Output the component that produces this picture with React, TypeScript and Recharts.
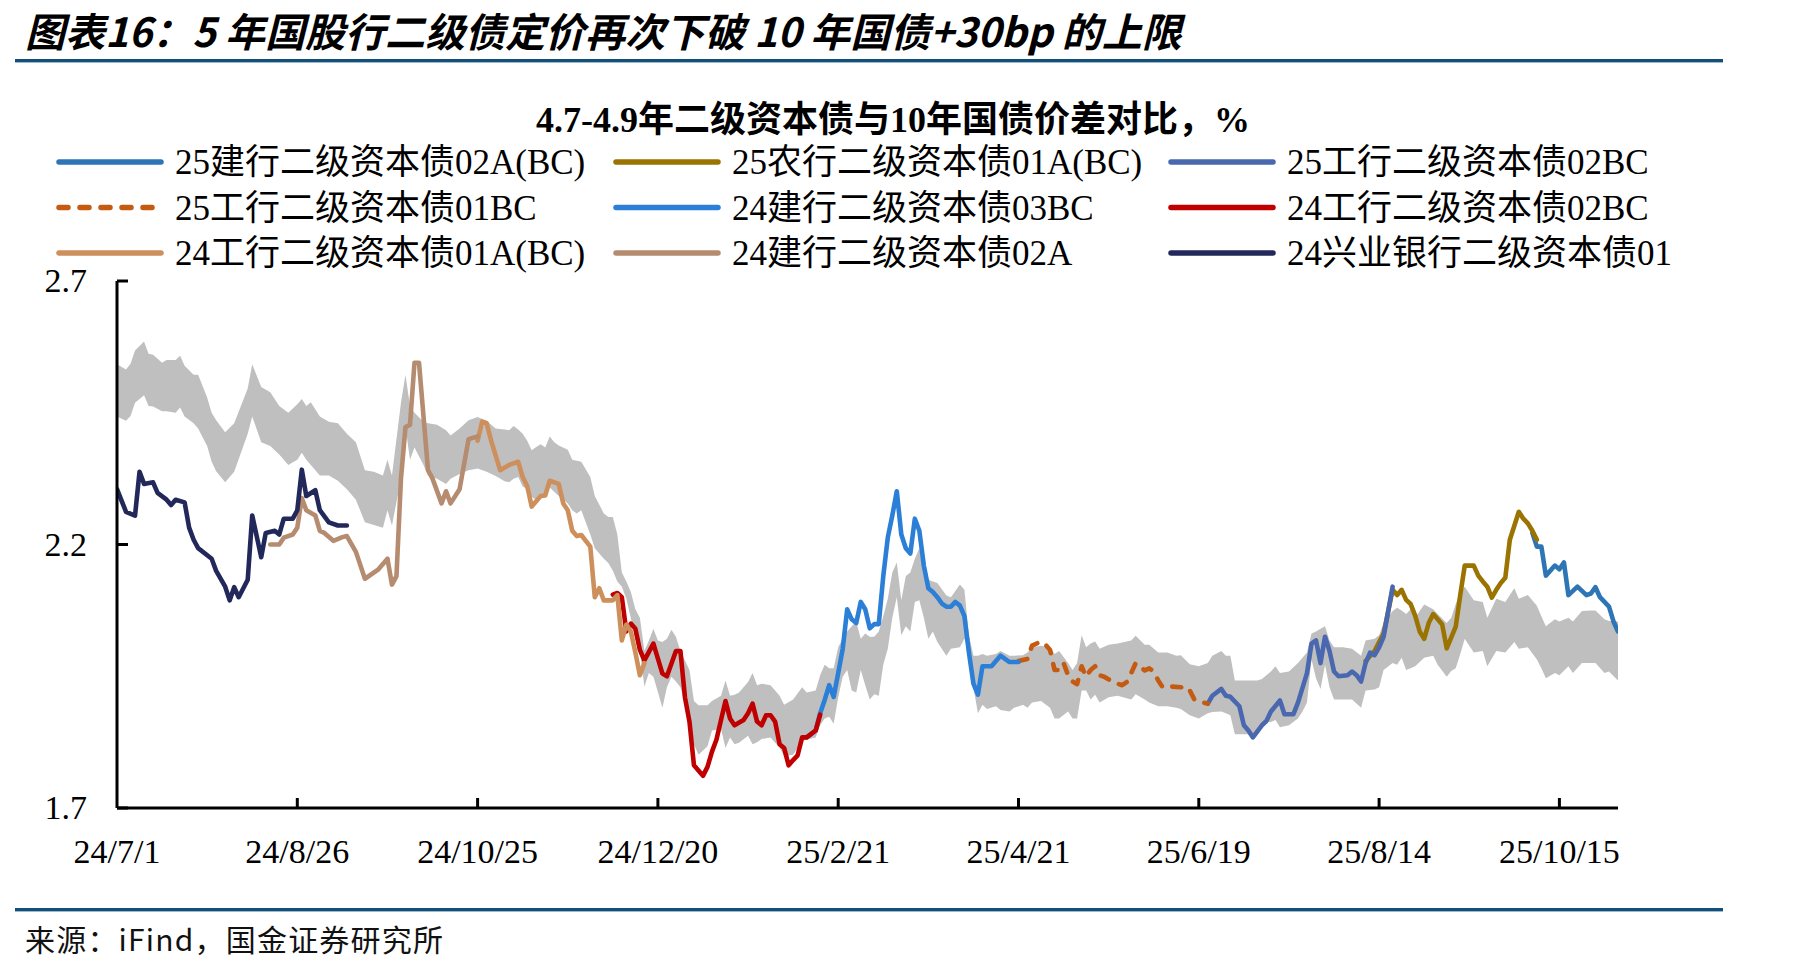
import React from 'react';
import { ComposedChart, Line, Area, XAxis, YAxis } from 'recharts';

// ---------- data ----------
const tickIndex = [0, 40, 80, 120, 160, 200, 240, 280, 320];
const tickLabels = ['24/7/1', '24/8/26', '24/10/25', '24/12/20', '25/2/21', '25/4/21', '25/6/19', '25/8/14', '25/10/15'];
const yTicks = [1.7, 2.2, 2.7];

// gray band: [trading-day index, low, high]
const bandRows: [number, number, number][] = [
  [0, 2.443, 2.542], [2, 2.435, 2.532], [3, 2.444, 2.543], [4, 2.469, 2.568], [6, 2.483, 2.585], [7, 2.463, 2.562],
  [8, 2.462, 2.56], [10, 2.453, 2.545], [11, 2.453, 2.55], [13, 2.45, 2.55], [14, 2.46, 2.558], [15, 2.443, 2.539],
  [17, 2.43, 2.522], [18, 2.42, 2.522], [20, 2.387, 2.479], [21, 2.357, 2.45], [22, 2.339, 2.436], [24, 2.318, 2.413],
  [26, 2.338, 2.43], [29, 2.41, 2.496], [30, 2.443, 2.542], [32, 2.394, 2.499], [34, 2.387, 2.489], [36, 2.371, 2.463],
  [38, 2.351, 2.45], [40, 2.361, 2.466], [41, 2.374, 2.476], [42, 2.361, 2.463], [43, 2.351, 2.47], [45, 2.331, 2.443],
  [47, 2.331, 2.433], [49, 2.321, 2.43], [51, 2.305, 2.41], [53, 2.285, 2.394], [55, 2.242, 2.341], [57, 2.237, 2.338],
  [59, 2.232, 2.331], [60, 2.265, 2.361], [61, 2.236, 2.331], [63, 2.325, 2.469], [64, 2.423, 2.522], [65, 2.361, 2.463],
  [66, 2.384, 2.45], [68, 2.351, 2.433], [69, 2.331, 2.43], [71, 2.325, 2.427], [73, 2.315, 2.417], [74, 2.325, 2.407],
  [76, 2.334, 2.42], [78, 2.341, 2.436], [80, 2.344, 2.442], [82, 2.338, 2.435], [84, 2.33, 2.42], [86, 2.32, 2.418],
  [87, 2.318, 2.417], [88, 2.325, 2.425], [89, 2.328, 2.418], [90, 2.31, 2.41], [91, 2.305, 2.397], [92, 2.29, 2.379],
  [93, 2.285, 2.385], [94, 2.29, 2.39], [95, 2.295, 2.384], [96, 2.308, 2.405], [97, 2.3, 2.394], [98, 2.292, 2.388],
  [100, 2.278, 2.38], [101, 2.265, 2.361], [102, 2.259, 2.359], [103, 2.265, 2.357], [105, 2.219, 2.328], [106, 2.193, 2.292],
  [108, 2.173, 2.259], [109, 2.165, 2.252], [110, 2.15, 2.252], [111, 2.13, 2.219], [112, 2.12, 2.147], [113, 2.097, 2.13],
  [114, 2.06, 2.11], [115, 2.02, 2.077], [116, 2.0, 2.061], [117, 1.93, 1.998], [118, 1.956, 2.018], [119, 1.949, 2.04],
  [120, 1.92, 2.018], [121, 1.89, 2.015], [122, 1.929, 2.021], [123, 1.949, 2.038], [124, 1.94, 2.025], [125, 1.929, 1.998],
  [127, 1.87, 1.962], [128, 1.821, 1.903], [129, 1.801, 1.895], [131, 1.817, 1.895], [132, 1.847, 1.903], [134, 1.85, 1.913],
  [135, 1.814, 1.942], [136, 1.834, 1.913], [137, 1.821, 1.915], [138, 1.824, 1.919], [140, 1.837, 1.939], [141, 1.821, 1.956],
  [142, 1.825, 1.933], [143, 1.831, 1.936], [145, 1.834, 1.933], [146, 1.824, 1.923], [147, 1.815, 1.913], [148, 1.798, 1.896],
  [150, 1.801, 1.906], [152, 1.827, 1.929], [153, 1.83, 1.919], [155, 1.834, 1.923], [156, 1.857, 1.952], [157, 1.87, 1.972],
  [158, 1.873, 1.965], [159, 1.86, 1.965], [160, 1.91, 2.005], [161, 1.949, 2.021], [162, 1.962, 2.035], [163, 1.923, 2.045],
  [164, 1.919, 2.054], [165, 1.962, 2.021], [166, 1.933, 2.031], [167, 1.906, 2.025], [168, 1.916, 2.025], [169, 1.913, 2.035],
  [170, 1.972, 2.064], [171, 2.002, 2.097], [172, 2.061, 2.147], [173, 2.1, 2.166], [174, 2.028, 2.094], [175, 2.045, 2.14],
  [176, 2.035, 2.147], [177, 2.091, 2.173], [178, 2.094, 2.193], [179, 2.061, 2.143], [180, 2.021, 2.133], [181, 2.035, 2.13],
  [182, 2.015, 2.127], [184, 1.989, 2.103], [185, 2.002, 2.1], [187, 2.005, 2.124], [188, 2.021, 2.114], [189, 1.995, 2.028],
  [190, 1.929, 1.989], [191, 1.88, 1.989], [192, 1.896, 1.992], [193, 1.888, 1.989], [195, 1.893, 1.992], [196, 1.886, 1.998],
  [198, 1.883, 1.989], [199, 1.89, 1.989], [201, 1.896, 1.99], [202, 1.89, 1.995], [203, 1.9, 2.005], [205, 1.903, 2.008],
  [207, 1.89, 2.005], [208, 1.87, 1.992], [209, 1.87, 1.998], [211, 1.883, 1.975], [212, 1.87, 1.962], [213, 1.87, 1.975],
  [214, 1.923, 2.028], [215, 1.923, 2.005], [216, 1.906, 2.012], [217, 1.915, 2.016], [218, 1.9, 2.002], [220, 1.91, 2.01],
  [222, 1.913, 2.012], [225, 1.906, 2.018], [226, 1.916, 2.027], [228, 1.906, 2.01], [229, 1.9, 2.01], [231, 1.893, 1.995],
  [233, 1.893, 1.995], [235, 1.89, 1.989], [236, 1.888, 1.99], [238, 1.876, 1.973], [240, 1.87, 1.969], [242, 1.88, 1.975],
  [243, 1.882, 1.989], [245, 1.883, 1.998], [246, 1.88, 1.989], [247, 1.876, 1.989], [248, 1.84, 1.942], [251, 1.84, 1.942],
  [253, 1.84, 1.942], [254, 1.863, 1.945], [256, 1.863, 1.959], [257, 1.867, 1.969], [258, 1.853, 1.956], [260, 1.857, 1.959],
  [262, 1.87, 1.975], [263, 1.883, 1.985], [264, 1.9, 1.995], [265, 1.982, 2.031], [266, 1.946, 2.035], [267, 1.926, 2.04],
  [268, 1.972, 2.045], [269, 1.929, 2.018], [270, 1.906, 2.005], [272, 1.906, 2.005], [274, 1.906, 2.002], [276, 1.89, 1.989],
  [277, 1.923, 2.018], [279, 1.925, 2.021], [280, 1.929, 2.028], [281, 1.962, 2.051], [283, 1.975, 2.074], [284, 1.972, 2.08],
  [285, 1.985, 2.075], [286, 1.962, 2.068], [287, 1.965, 2.077], [288, 1.969, 2.061], [290, 1.985, 2.086], [292, 1.989, 2.077],
  [293, 1.972, 2.068], [295, 1.949, 2.051], [296, 1.96, 2.061], [297, 1.965, 2.087], [298, 1.992, 2.11], [299, 2.021, 2.12],
  [301, 1.995, 2.094], [303, 1.998, 2.091], [304, 1.969, 2.061], [306, 1.998, 2.097], [308, 1.995, 2.091], [310, 2.015, 2.117],
  [311, 2.002, 2.097], [313, 2.005, 2.104], [315, 1.982, 2.084], [316, 1.965, 2.064], [317, 1.946, 2.045], [319, 1.956, 2.058],
  [320, 1.952, 2.054], [322, 1.969, 2.061], [323, 1.956, 2.054], [325, 1.975, 2.074], [327, 1.975, 2.075], [328, 1.975, 2.075],
  [330, 1.956, 2.058], [331, 1.959, 2.055], [333, 1.942, 2.054],
];

// series: [trading-day index, value]
const s25jh02a: [number, number][] = [
  [314, 2.222], [315, 2.196], [316, 2.196], [317, 2.141], [319, 2.16], [320, 2.153], [321, 2.166], [322, 2.104],
  [324, 2.12], [326, 2.104], [327, 2.107], [328, 2.119], [329, 2.1], [331, 2.082], [332, 2.054], [333, 2.035],
];
const s25nh01a: [number, number][] = [
  [277, 1.979], [279, 1.998], [280, 2.015], [281, 2.031], [283, 2.114], [284, 2.104], [285, 2.114], [286, 2.095],
  [287, 2.087], [288, 2.065], [289, 2.035], [290, 2.021], [291, 2.051], [292, 2.068], [293, 2.058], [294, 2.048],
  [295, 2.003], [297, 2.044], [298, 2.104], [299, 2.16], [301, 2.16], [302, 2.141], [303, 2.13], [304, 2.12],
  [305, 2.099], [306, 2.114], [307, 2.127], [308, 2.137], [309, 2.209], [311, 2.262], [312, 2.249], [313, 2.24],
  [314, 2.226], [315, 2.209],
];
const s25gh02: [number, number][] = [
  [242, 1.898], [243, 1.913], [245, 1.926], [246, 1.913], [247, 1.911], [249, 1.893], [250, 1.857], [251, 1.847],
  [252, 1.834], [254, 1.857], [255, 1.865], [256, 1.883], [258, 1.904], [259, 1.878], [261, 1.878], [262, 1.9],
  [264, 1.956], [265, 2.012], [266, 2.018], [267, 1.975], [268, 2.025], [269, 1.998], [270, 1.959], [271, 1.95],
  [273, 1.952], [274, 1.959], [275, 1.952], [276, 1.94], [277, 1.975], [278, 1.995], [279, 1.99], [280, 2.005],
  [281, 2.025], [283, 2.12],
];
const s25gh01: [number, number][] = [
  [200, 1.979], [202, 1.983], [203, 2.008], [205, 2.016], [206, 2.01], [207, 2.0], [208, 1.962], [209, 1.962],
  [210, 1.975], [211, 1.952], [212, 1.94], [213, 1.935], [214, 1.969], [215, 1.949], [216, 1.962], [217, 1.969],
  [218, 1.952], [219, 1.949], [221, 1.939], [223, 1.933], [224, 1.939], [225, 1.956], [226, 1.975], [228, 1.961],
  [229, 1.965], [230, 1.959], [231, 1.942], [232, 1.929], [233, 1.931], [236, 1.929], [237, 1.931], [238, 1.923],
  [239, 1.906], [241, 1.9], [242, 1.898],
];
const s24jh03: [number, number][] = [
  [153, 1.834], [155, 1.847], [156, 1.88], [157, 1.905], [158, 1.933], [159, 1.911], [160, 1.956], [161, 2.002],
  [162, 2.077], [163, 2.058], [164, 2.051], [165, 2.091], [166, 2.077], [167, 2.041], [168, 2.049], [169, 2.049],
  [170, 2.14], [171, 2.213], [172, 2.255], [173, 2.301], [174, 2.219], [175, 2.193], [176, 2.183], [177, 2.249],
  [178, 2.226], [179, 2.16], [180, 2.117], [181, 2.11], [182, 2.1], [183, 2.088], [184, 2.082], [185, 2.082],
  [186, 2.091], [187, 2.084], [188, 2.064], [189, 1.995], [190, 1.936], [191, 1.915], [192, 1.969], [194, 1.969],
  [196, 1.989], [198, 1.977], [200, 1.977],
];
const s24gh02: [number, number][] = [
  [110, 2.105], [111, 2.108], [112, 2.1], [113, 2.035], [114, 2.05], [115, 2.04], [116, 2.0], [117, 1.98],
  [119, 2.012], [121, 1.955], [122, 1.95], [124, 1.998], [125, 1.998], [126, 1.91], [127, 1.864], [128, 1.781],
  [130, 1.761], [131, 1.778], [132, 1.807], [133, 1.83], [134, 1.867], [135, 1.903], [136, 1.87], [137, 1.857],
  [139, 1.867], [140, 1.88], [141, 1.898], [142, 1.864], [143, 1.857], [144, 1.876], [145, 1.876], [146, 1.864],
  [147, 1.821], [148, 1.814], [149, 1.781], [150, 1.791], [151, 1.8], [152, 1.834], [153, 1.834], [155, 1.847],
  [156, 1.877],
];
const s24gh01a: [number, number][] = [
  [80, 2.397], [81, 2.433], [82, 2.43], [83, 2.397], [85, 2.341], [87, 2.351], [89, 2.357], [90, 2.328],
  [91, 2.311], [92, 2.272], [94, 2.292], [95, 2.293], [96, 2.321], [98, 2.315], [99, 2.278], [100, 2.265],
  [101, 2.226], [102, 2.216], [103, 2.218], [105, 2.196], [106, 2.1], [107, 2.117], [108, 2.094], [110, 2.094],
  [111, 2.104], [112, 2.018], [113, 2.048], [114, 2.035], [115, 1.995], [116, 1.952], [117, 1.975],
];
const s24jh02a: [number, number][] = [
  [34, 2.2], [36, 2.2], [37, 2.213], [39, 2.219], [40, 2.232], [41, 2.288], [42, 2.265], [44, 2.255],
  [45, 2.226], [46, 2.222], [48, 2.207], [50, 2.214], [51, 2.216], [53, 2.186], [55, 2.135], [58, 2.153],
  [60, 2.173], [61, 2.124], [62, 2.14], [63, 2.325], [64, 2.423], [65, 2.427], [66, 2.545], [67, 2.545],
  [68, 2.443], [69, 2.341], [70, 2.325], [72, 2.278], [73, 2.301], [74, 2.278], [76, 2.305], [78, 2.4], [80, 2.405],
];
const s24xy01: [number, number][] = [
  [0, 2.305], [2, 2.262], [4, 2.255], [5, 2.338], [6, 2.315], [8, 2.318], [9, 2.298], [11, 2.285],
  [12, 2.275], [13, 2.285], [15, 2.28], [16, 2.232], [17, 2.209], [18, 2.193], [21, 2.173], [22, 2.15],
  [24, 2.12], [25, 2.094], [26, 2.119], [27, 2.1], [29, 2.133], [30, 2.255], [32, 2.176], [33, 2.222],
  [35, 2.226], [36, 2.219], [37, 2.249], [39, 2.249], [40, 2.265], [41, 2.342], [42, 2.292], [44, 2.303],
  [45, 2.265], [47, 2.242], [49, 2.236], [51, 2.236],
];

const seriesList = [
  { name: '25建行二级资本债02A(BC)', color: '#2E75B6', rows: s25jh02a, dash: false },
  { name: '25农行二级资本债01A(BC)', color: '#9A7300', rows: s25nh01a, dash: false },
  { name: '25工行二级资本债02BC', color: '#4A68AF', rows: s25gh02, dash: false },
  { name: '25工行二级资本债01BC', color: '#C55A11', rows: s25gh01, dash: true },
  { name: '24建行二级资本债03BC', color: '#2B7FD7', rows: s24jh03, dash: false },
  { name: '24工行二级资本债02BC', color: '#C00000', rows: s24gh02, dash: false },
  { name: '24工行二级资本债01A(BC)', color: '#CD8F5B', rows: s24gh01a, dash: false },
  { name: '24建行二级资本债02A', color: '#B58C70', rows: s24jh02a, dash: false },
  { name: '24兴业银行二级资本债01', color: '#23285A', rows: s24xy01, dash: false },
];

const bandData = bandRows.map(([i, lo, hi]) => ({ i, range: [lo, hi] }));

const SERIF = "'Liberation Serif', 'Times New Roman', 'Noto Sans CJK SC', serif";

const XTick = (props: any) => {
  const { x, y, payload } = props;
  const k = tickIndex.indexOf(payload.value);
  return (
    <g>
      {payload.value !== 0 && <line x1={x} x2={x} y1={y} y2={y - 10} stroke="#000" strokeWidth={3} />}
      <text x={x} y={y + 55} textAnchor="middle" fontFamily={SERIF} fontSize={34} fill="#000">
        {tickLabels[k]}
      </text>
    </g>
  );
};

const YTick = (props: any) => {
  const { x, y, payload } = props;
  return (
    <g>
      <line x1={x} x2={x + 11} y1={y} y2={y} stroke="#000" strokeWidth={3} />
      <text x={x - 30} y={y + 11} textAnchor="end" fontFamily={SERIF} fontSize={34} fill="#000">
        {Number(payload.value).toFixed(1)}
      </text>
    </g>
  );
};

const legendCols = [56, 613, 1168];
const legendRows = [162, 207.5, 253];

export default function App() {
  return (
    <div style={{ position: 'absolute', left: 0, top: 0, width: 1811, height: 972, background: '#fff', overflow: 'hidden' }}>
      <svg width={1811} height={972} style={{ position: 'absolute', left: 0, top: 0 }}>
        <text x={25} y={47} fontFamily="'Noto Sans CJK SC', sans-serif" fontWeight={700} fontStyle="italic" fontSize={40} fill="#000">
          图表16：5 年国股行二级债定价再次下破 10 年国债+30bp 的上限
        </text>
        <rect x={15} y={59} width={1708} height={3} fill="#12507A" />
        <rect x={15} y={62} width={1708} height={1} fill="#9DB9CD" />
        <text x={893} y={132} textAnchor="middle" fontFamily={SERIF} fontWeight={700} fontSize={36} fill="#000">
          4.7-4.9年二级资本债与10年国债价差对比，%
        </text>
        {seriesList.map((s, k) => {
          const col = k % 3;
          const row = Math.floor(k / 3);
          const lx = legendCols[col];
          const ly = legendRows[row];
          return (
            <g key={s.name}>
              <line x1={lx + 3} x2={lx + 105} y1={ly} y2={ly} stroke={s.color} strokeWidth={5.5}
                strokeLinecap="round" strokeDasharray={s.dash ? '9 12' : undefined} />
              <text x={lx + 119} y={ly + 12} fontFamily={SERIF} fontSize={35} fill="#000">{s.name}</text>
            </g>
          );
        })}
        <rect x={15} y={908} width={1708} height={3} fill="#12507A" />
        <rect x={15} y={911} width={1708} height={1} fill="#9DB9CD" />
        <text x={25} y={951} fontFamily="'Noto Sans CJK SC', sans-serif" fontSize={30} letterSpacing={1.2} fill="#111">
          来源：iFind，国金证券研究所
        </text>
      </svg>
      <div style={{ position: 'absolute', left: 0, top: 0 }}>
        <ComposedChart width={1811} height={972} margin={{ top: 281, right: 193, bottom: 104, left: 57 }}>
          <XAxis type="number" dataKey="i" domain={[0, 333]} ticks={tickIndex} interval={0} height={60}
            axisLine={{ stroke: '#000', strokeWidth: 3 }} tickLine={false} tickSize={0} tickMargin={0}
            tick={<XTick />} allowDataOverflow />
          <YAxis type="number" domain={[1.7, 2.7]} ticks={yTicks} interval={0} width={60}
            axisLine={{ stroke: '#000', strokeWidth: 3 }} tickLine={false} tickSize={0} tickMargin={0}
            tick={<YTick />} allowDataOverflow />
          <Area data={bandData} dataKey="range" type="linear" stroke="none" fill="#BFBFBF" fillOpacity={1}
            isAnimationActive={false} dot={false} activeDot={false} />
          {seriesList.map((s) => (
            <Line key={s.name} data={s.rows.map(([i, v]) => ({ i, v }))} dataKey="v" name={s.name}
              type="linear" stroke={s.color} strokeWidth={4.6} dot={false} activeDot={false}
              strokeLinecap="round" strokeLinejoin="round"
              strokeDasharray={s.dash ? '9 11' : undefined} isAnimationActive={false} />
          ))}
        </ComposedChart>
      </div>
    </div>
  );
}
